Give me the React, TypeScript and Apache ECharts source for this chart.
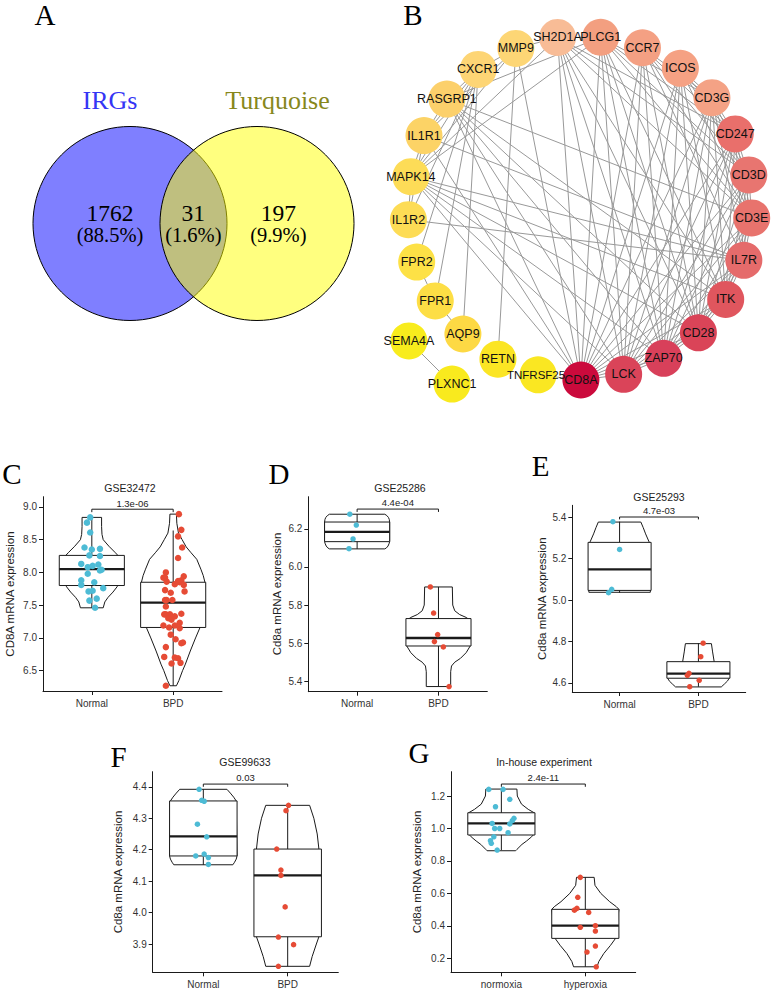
import React, { useEffect, useRef } from "react";
import * as echarts from "echarts";

const FONT = "Liberation Sans, Arial, Helvetica, sans-serif";
const SERIF = "Liberation Serif, Times New Roman, serif";
const LINE = "#1a1a1a";
const BLUE = "#4DBBD5";
const RED = "#E64B35";

// ---------- Panel A: Venn ----------
const vennSets = ["IRGs", "Turquoise"];
const vennCounts = ["1762", "31", "197"];
const vennPercents = ["(88.5%)", "(1.6%)", "(9.9%)"];

// ---------- Panel B: network ----------
const netNodes = ["CD3E", "IL7R", "ITK", "CD28", "ZAP70", "LCK", "CD8A", "TNFRSF25", "RETN", "AQP9", "FPR1", "FPR2", "IL1R2", "MAPK14", "IL1R1", "RASGRP1", "CXCR1", "MMP9", "SH2D1A", "PLCG1", "CCR7", "ICOS", "CD3G", "CD247", "CD3D"];
const netColors = ["#E8736D", "#E56B6B", "#E0565E", "#DA4458", "#D8405A", "#DA4459", "#CB0A3C", "#FAE722", "#FBE524", "#FDD944", "#FDDE45", "#FDE146", "#FDDC55", "#FDDC57", "#FCD366", "#FCD06B", "#FDD575", "#FDD675", "#F8BC96", "#F39F80", "#F4A083", "#F5A183", "#F4A285", "#E96F6B", "#E87570"];
const pairNodes = ["PLXNC1", "SEMA4A"];
const pairColors = ["#F9EA1E", "#F8EC1D"];
const netAdjacency: [string, string[]][] = [
  ["CD8A", ["LCK", "ZAP70", "CD28", "ITK", "IL7R", "CD3E", "CD3D", "CD247", "CD3G", "ICOS", "CCR7", "PLCG1", "SH2D1A", "TNFRSF25", "MMP9", "MAPK14", "IL1R1", "RASGRP1"]],
  ["LCK", ["ZAP70", "CD28", "ITK", "IL7R", "CD3E", "CD3D", "CD247", "CD3G", "ICOS", "CCR7", "PLCG1", "SH2D1A", "RASGRP1", "MAPK14"]],
  ["ZAP70", ["CD28", "ITK", "IL7R", "CD3E", "CD3D", "CD247", "CD3G", "ICOS", "CCR7", "PLCG1", "SH2D1A", "RASGRP1", "MAPK14"]],
  ["CD28", ["ITK", "IL7R", "CD3E", "CD3D", "CD247", "CD3G", "ICOS", "CCR7", "PLCG1", "SH2D1A", "RASGRP1", "MAPK14"]],
  ["ITK", ["IL7R", "CD3E", "CD3D", "CD247", "CD3G", "ICOS", "PLCG1", "SH2D1A", "RASGRP1", "MAPK14"]],
  ["IL7R", ["CD3E", "CD3D", "CD247", "CD3G", "CCR7", "IL1R2", "IL1R1", "MAPK14"]],
  ["CD3E", ["CD3D", "CD247", "CD3G", "ICOS", "CCR7", "PLCG1", "SH2D1A", "RASGRP1"]],
  ["CD3D", ["CD247", "CD3G", "ICOS", "CCR7", "PLCG1", "SH2D1A"]],
  ["CD247", ["CD3G", "ICOS", "CCR7", "PLCG1", "SH2D1A"]],
  ["CD3G", ["ICOS", "CCR7", "PLCG1"]],
  ["PLCG1", ["SH2D1A", "RASGRP1", "MAPK14"]],
  ["MAPK14", ["SH2D1A", "IL1R1", "IL1R2", "CXCR1", "MMP9"]],
  ["IL1R1", ["IL1R2", "RASGRP1", "CXCR1", "MMP9"]],
  ["CXCR1", ["RASGRP1", "MMP9", "FPR1", "FPR2", "AQP9", "IL1R2"]],
  ["MMP9", ["SH2D1A", "RETN"]],
  ["FPR1", ["FPR2", "AQP9"]],
];
const pairLinks: [string, string][] = [["SEMA4A", "PLXNC1"]];

// ---------- Panels C-G: box + violin data ----------
const catsBPD = ["Normal", "BPD"];
const catsOxy = ["normoxia", "hyperoxia"];

// stats: [lower whisker, Q1, median, Q3, upper whisker]
const cNormalStats = [7.46, 7.8, 8.05, 8.26, 8.84];
const cBpdStats = [6.27, 7.16, 7.54, 7.85, 8.64];
const dNormalStats = [6.095, 6.133, 6.184, 6.236, 6.277];
const dBpdStats = [5.372, 5.585, 5.627, 5.729, 5.895];
const eNormalStats = [5.036, 5.047, 5.149, 5.279, 5.379];
const eBpdStats = [4.582, 4.623, 4.645, 4.703, 4.792];
const fNormalStats = [4.152, 4.18, 4.242, 4.355, 4.392];
const fBpdStats = [3.829, 3.923, 4.118, 4.202, 4.341];
const gNormStats = [0.867, 0.96, 1.031, 1.097, 1.241];
const gHypStats = [0.148, 0.323, 0.401, 0.502, 0.699];

// violin outlines: [value, half width]
const cNormalViolin = [[7.46, 0.14], [7.55, 0.16], [7.62, 0.2], [7.7, 0.26], [7.78, 0.31], [7.85, 0.34], [8.0, 0.36], [8.2, 0.34], [8.26, 0.32], [8.3, 0.29], [8.4, 0.21], [8.5, 0.14], [8.58, 0.125], [8.7, 0.12], [8.84, 0.12]];
const cBpdViolin = [[6.27, 0.04], [6.35, 0.07], [6.5, 0.115], [6.6, 0.15], [6.8, 0.21], [7.0, 0.275], [7.16, 0.33], [7.5, 0.38], [7.85, 0.39], [7.95, 0.37], [8.05, 0.34], [8.2, 0.29], [8.3, 0.22], [8.39, 0.16], [8.5, 0.11], [8.6, 0.065], [8.75, 0.045], [8.89, 0.04]];
const dNormalViolin = [[6.095, 0.34], [6.1, 0.36], [6.11, 0.38], [6.125, 0.395], [6.135, 0.4], [6.236, 0.4], [6.25, 0.395], [6.26, 0.385], [6.27, 0.365], [6.277, 0.34]];
const dBpdViolin = [[5.372, 0.15], [5.45, 0.15], [5.48, 0.16], [5.5, 0.2], [5.52, 0.27], [5.55, 0.34], [5.585, 0.39], [5.72, 0.39], [5.735, 0.34], [5.75, 0.26], [5.77, 0.2], [5.8, 0.175], [5.895, 0.17]];
const eNormalViolin = [[5.038, 0.39], [5.27, 0.39], [5.285, 0.37], [5.32, 0.33], [5.35, 0.3], [5.377, 0.27]];
const eBpdViolin = [[4.581, 0.29], [4.595, 0.33], [4.61, 0.37], [4.623, 0.39], [4.66, 0.3], [4.703, 0.2], [4.75, 0.18], [4.79, 0.165]];
const fNormalViolin = [[4.152, 0.35], [4.16, 0.37], [4.17, 0.39], [4.18, 0.4], [4.355, 0.39], [4.367, 0.36], [4.38, 0.32], [4.392, 0.28]];
const fBpdViolin = [[3.829, 0.26], [3.86, 0.29], [3.9, 0.34], [3.923, 0.37], [4.202, 0.37], [4.25, 0.35], [4.3, 0.31], [4.341, 0.26]];
const gNormViolin = [[0.863, 0.17], [0.871, 0.185], [0.902, 0.245], [0.923, 0.3], [0.949, 0.36], [0.96, 0.38], [1.097, 0.39], [1.118, 0.32], [1.15, 0.24], [1.2, 0.19], [1.243, 0.185]];
const gHypViolin = [[0.148, 0.14], [0.18, 0.16], [0.23, 0.22], [0.28, 0.3], [0.323, 0.36], [0.502, 0.4], [0.518, 0.37], [0.549, 0.29], [0.6, 0.185], [0.65, 0.115], [0.699, 0.105]];

// individual samples: values and horizontal jitter
const cNormalY = [8.84, 8.76, 8.61, 8.38, 8.35, 8.36, 8.26, 8.25, 8.13, 8.1, 8.12, 8.08, 8.03, 8.04, 7.98, 7.88, 7.85, 7.81, 7.76, 7.71, 7.72, 7.57, 7.6, 7.46];
const cNormalJ = [-0.02, -0.06, -0.02, -0.09, 0.0, 0.1, -0.03, 0.1, -0.13, 0.01, 0.08, -0.05, 0.1, 0.12, -0.05, -0.13, 0.03, -0.13, 0.14, -0.04, 0.01, -0.03, 0.06, 0.04];
const cBpdY = [8.89, 8.65, 8.55, 8.38, 8.22, 8.0, 7.92, 7.92, 7.94, 7.86, 7.87, 7.88, 7.85, 7.82, 7.81, 7.71, 7.73, 7.69, 7.58, 7.58, 7.58, 7.48, 7.36, 7.36, 7.36, 7.37, 7.3, 7.28, 7.33, 7.23, 7.19, 7.19, 7.16, 7.15, 7.05, 6.98, 6.92, 6.93, 6.86, 6.71, 6.7, 6.69, 6.61, 6.62, 6.27];
const cBpdJ = [0.07, 0.1, 0.06, 0.11, 0.06, -0.09, -0.12, -0.1, 0.13, -0.08, 0.06, 0.1, 0.08, 0.02, 0.13, 0.14, -0.1, -0.03, -0.1, -0.08, -0.01, -0.09, -0.11, -0.09, -0.04, 0.1, -0.06, -0.02, 0.02, 0.08, -0.12, 0.02, -0.05, 0.08, -0.03, 0.03, 0.1, 0.12, -0.09, -0.11, 0.02, 0.06, -0.02, 0.09, -0.09];
const dNormalY = [6.277, 6.22, 6.147, 6.096];
const dNormalJ = [-0.09, -0.01, -0.05, -0.1];
const dBpdY = [5.895, 5.758, 5.645, 5.608, 5.58, 5.372];
const dBpdJ = [-0.1, -0.06, -0.01, -0.05, 0.06, 0.13];
const eNormalY = [5.379, 5.245, 5.052, 5.036];
const eNormalJ = [-0.085, 0.0, -0.1, -0.14];
const eBpdY = [4.792, 4.727, 4.647, 4.637, 4.613, 4.582];
const eBpdJ = [0.06, 0.03, -0.12, -0.14, 0.01, -0.11];
const fNormalY = [4.392, 4.357, 4.354, 4.281, 4.241, 4.18, 4.186, 4.175, 4.153];
const fNormalJ = [-0.05, -0.02, 0.01, -0.07, 0.04, -0.09, 0.01, 0.06, 0.06];
const fBpdY = [4.341, 4.324, 4.202, 4.135, 4.118, 4.018, 3.922, 3.898, 3.829];
const fBpdJ = [0.01, -0.02, -0.13, -0.08, -0.08, -0.03, -0.11, 0.07, -0.11];
const gNormY = [1.241, 1.241, 1.18, 1.134, 1.063, 1.048, 1.028, 1.031, 1.0, 1.0, 0.974, 0.949, 0.925, 0.909, 0.867];
const gNormJ = [-0.15, 0.02, 0.1, -0.07, 0.15, 0.13, 0.1, -0.11, -0.08, -0.02, 0.08, -0.09, -0.13, -0.12, -0.05];
const gHypY = [0.699, 0.576, 0.497, 0.508, 0.483, 0.391, 0.401, 0.368, 0.276, 0.239, 0.148];
const gHypJ = [-0.06, -0.09, -0.13, -0.1, 0.04, -0.06, 0.12, 0.12, 0.12, 0.02, 0.13];

// y-axis tick labels
const cTicks = [6.5, 7.0, 7.5, 8.0, 8.5, 9.0];
const dTicks = [5.4, 5.6, 5.8, 6.0, 6.2];
const eTicks = [4.6, 4.8, 5.0, 5.2, 5.4];
const fTicks = [3.9, 4.0, 4.1, 4.2, 4.3, 4.4];
const gTicks = [0.2, 0.4, 0.6, 0.8, 1.0, 1.2];

// significance: [bracket level, tip level] and p labels
const pLabels = ["1.3e-06", "4.4e-04", "4.7e-03", "0.03", "2.4e-11"];
const brackets = [[8.965, 8.92], [6.304, 6.289], [5.4015, 5.39], [4.4086, 4.4], [1.274, 1.257]];
const plotTitles = ["GSE32472", "GSE25286", "GSE25293", "GSE99633", "In-house experiment"];
const yTitles = ["CD8A mRNA expression", "Cd8a mRNA expression", "Cd8a mRNA expression", "Cd8a mRNA expression", "Cd8a mRNA expression"];

const panels = [
  { box: [43, 496.7, 179, 194.3], y: [6.19, 9.156], ticks: cTicks, cats: catsBPD, stats: [cNormalStats, cBpdStats], violins: [cNormalViolin, cBpdViolin], pts: [[cNormalJ, cNormalY], [cBpdJ, cBpdY]], dot: 6.5, titlePos: [130, 488], yTitlePos: [10, 594], letter: ["C", 12, 474] },
  { box: [308.3, 496.7, 179, 195], y: [5.345, 6.369], ticks: dTicks, cats: catsBPD, stats: [dNormalStats, dBpdStats], violins: [dNormalViolin, dBpdViolin], pts: [[dNormalJ, dNormalY], [dBpdJ, dBpdY]], dot: 5.5, titlePos: [400, 488], yTitlePos: [276.7, 594], letter: ["D", 279, 473.5] },
  { box: [572.3, 505.3, 173.4, 186.7], y: [4.5565, 5.458], ticks: eTicks, cats: catsBPD, stats: [eNormalStats, eBpdStats], violins: [eNormalViolin, eBpdViolin], pts: [[eNormalJ, eNormalY], [eBpdJ, eBpdY]], dot: 5.5, titlePos: [659, 496.7], yTitlePos: [541.7, 598.7], letter: ["E", 540.5, 466] },
  { box: [152.7, 771.7, 185.6, 200.6], y: [3.81, 4.448], ticks: fTicks, cats: catsBPD, stats: [fNormalStats, fBpdStats], violins: [fNormalViolin, fBpdViolin], pts: [[fNormalJ, fNormalY], [fBpdJ, fBpdY]], dot: 5.5, titlePos: [245, 762.3], yTitlePos: [118.3, 872], letter: ["F", 118.5, 756.5] },
  { box: [451, 771.7, 184.7, 200.6], y: [0.114, 1.35], ticks: gTicks, cats: catsOxy, stats: [gNormStats, gHypStats], violins: [gNormViolin, gHypViolin], pts: [[gNormJ, gNormY], [gHypJ, gHypY]], dot: 5.5, titlePos: [544, 762.3], yTitlePos: [417.3, 872], letter: ["G", 419, 752.5] },
];

const BOXW = 0.4;

function txt(text: string, x: number, y: number, size: number, opt: any = {}) {
  return {
    type: "text",
    x,
    y,
    rotation: opt.rot || 0,
    silent: true,
    z: 20,
    style: {
      text,
      fontSize: size,
      fontFamily: opt.family || FONT,
      fill: opt.color || "#1a1a1a",
      align: "center",
      verticalAlign: "middle",
      fontWeight: "normal",
    },
  };
}

function buildOption(): any {
  const grids: any[] = [];
  const xAxes: any[] = [];
  const yAxes: any[] = [];
  const series: any[] = [];
  const graphics: any[] = [];

  panels.forEach((p, i) => {
    grids.push({ left: p.box[0], top: p.box[1], width: p.box[2], height: p.box[3], containLabel: false, outerBoundsMode: "none" });
    xAxes.push({
      type: "value",
      gridIndex: i,
      min: -0.6,
      max: 1.6,
      axisLine: { show: true, onZero: false, lineStyle: { color: LINE, width: 1 } },
      axisTick: { show: true, length: 4, lineStyle: { color: LINE, width: 1 }, customValues: [0, 1] },
      axisLabel: { show: true, customValues: [0, 1], formatter: (v: number) => p.cats[Math.round(v)], color: "#333", fontSize: 10, fontFamily: FONT, margin: 7 },
      splitLine: { show: false },
    });
    yAxes.push({
      type: "value",
      gridIndex: i,
      min: p.y[0],
      max: p.y[1],
      axisLine: { show: true, onZero: false, lineStyle: { color: LINE, width: 1 } },
      axisTick: { show: true, length: 4, lineStyle: { color: LINE, width: 1 }, customValues: p.ticks },
      axisLabel: { show: true, customValues: p.ticks, formatter: (v: number) => v.toFixed(1), color: "#333", fontSize: 10, fontFamily: FONT, margin: 6 },
      splitLine: { show: false },
    });

    series.push({
      type: "custom",
      xAxisIndex: i,
      yAxisIndex: i,
      z: 2,
      silent: true,
      data: p.stats.map((s, k) => [k, ...s]),
      encode: { x: 0, y: [1, 2, 3, 4, 5] },
      renderItem: (params: any, api: any) => {
        const idx = params.dataIndex;
        const c = api.value(0);
        const s = [api.value(1), api.value(2), api.value(3), api.value(4), api.value(5)];
        const prof = p.violins[idx];
        const right = prof.map(([yv, w]) => api.coord([c + w, yv]));
        const left = prof.slice().reverse().map(([yv, w]) => api.coord([c - w, yv]));
        const top = api.coord([c, s[4]]);
        const bot = api.coord([c, s[0]]);
        const b1 = api.coord([c - BOXW, s[3]]);
        const b2 = api.coord([c + BOXW, s[1]]);
        const m1 = api.coord([c - BOXW, s[2]]);
        const m2 = api.coord([c + BOXW, s[2]]);
        return {
          type: "group",
          children: [
            { type: "polygon", shape: { points: right.concat(left) }, style: { fill: "#fff", stroke: LINE, lineWidth: 1 } },
            { type: "line", shape: { x1: top[0], y1: top[1], x2: bot[0], y2: bot[1] }, style: { stroke: LINE, lineWidth: 1 } },
            { type: "rect", shape: { x: b1[0], y: b1[1], width: b2[0] - b1[0], height: b2[1] - b1[1] }, style: { fill: "#fff", stroke: LINE, lineWidth: 1 } },
            { type: "line", shape: { x1: m1[0], y1: m1[1], x2: m2[0], y2: m2[1] }, style: { stroke: LINE, lineWidth: 2.3 } },
          ],
        };
      },
    });

    series.push({
      type: "custom",
      xAxisIndex: i,
      yAxisIndex: i,
      z: 4,
      silent: true,
      data: [[0, 1, brackets[i][0], brackets[i][1]]],
      encode: { x: [0, 1], y: [2, 3] },
      renderItem: (params: any, api: any) => {
        const a = api.coord([api.value(0), api.value(3)]);
        const b = api.coord([api.value(0), api.value(2)]);
        const c = api.coord([api.value(1), api.value(2)]);
        const d = api.coord([api.value(1), api.value(3)]);
        return {
          type: "group",
          children: [
            { type: "polyline", shape: { points: [a, b, c, d] }, style: { stroke: LINE, lineWidth: 1, fill: "none" } },
            { type: "text", x: (b[0] + c[0]) / 2, y: b[1] - 1.2, style: { text: pLabels[i], align: "center", verticalAlign: "bottom", fontSize: 9.5, fontFamily: FONT, fill: "#222" } },
          ],
        };
      },
    });

    p.pts.forEach(([jit, vals], k) => {
      series.push({
        type: "scatter",
        xAxisIndex: i,
        yAxisIndex: i,
        z: 5,
        silent: true,
        symbol: "circle",
        symbolSize: p.dot,
        itemStyle: { color: k === 0 ? BLUE : RED, opacity: 1 },
        data: vals.map((v, n) => [k + jit[n], v]),
      });
    });

    graphics.push(txt(plotTitles[i], p.titlePos[0], p.titlePos[1], 10.5, { color: "#222" }));
    graphics.push(txt(yTitles[i], p.yTitlePos[0], p.yTitlePos[1], 11.5, { rot: Math.PI / 2, color: "#222" }));
    graphics.push(txt(p.letter[0] as string, p.letter[1] as number, p.letter[2] as number, 29, { family: SERIF, color: "#000" }));
  });

  // Network: ring of nodes placed by a hidden polar coordinate system (one category per gene)
  const links: any[] = [];
  netAdjacency.forEach(([src, targets]) => targets.forEach((t) => links.push({ source: src, target: t })));
  series.push({
    type: "graph",
    coordinateSystem: "polar",
    polarIndex: 0,
    roam: false,
    silent: true,
    symbol: "circle",
    symbolSize: 37,
    label: { show: true, position: "inside", color: "#111", fontSize: 12.5, fontFamily: FONT },
    lineStyle: { color: "#999", width: 1, opacity: 1, curveness: 0 },
    emphasis: { disabled: true },
    data: netNodes.map((n, i) => ({
      name: n,
      value: [1, n],
      itemStyle: { color: netColors[i] },
      ...(n === "TNFRSF25" ? { label: { fontSize: 11.5, offset: [-2, 0] } } : {}),
    })),
    links,
    z: 1,
  });
  series.push({
    type: "graph",
    layout: "circular",
    left: 400,
    top: 332,
    width: 61,
    height: 61,
    roam: false,
    silent: true,
    symbol: "circle",
    symbolSize: 37,
    circular: { rotateLabel: false },
    label: { show: true, position: "inside", color: "#111", fontSize: 12.5, fontFamily: FONT },
    lineStyle: { color: "#999", width: 1, opacity: 1, curveness: 0 },
    emphasis: { disabled: true },
    data: [
      { name: pairNodes[0], itemStyle: { color: pairColors[0] } },
      { name: "_gap1", itemStyle: { opacity: 0 }, label: { show: false } },
      { name: pairNodes[1], itemStyle: { color: pairColors[1] } },
      { name: "_gap2", itemStyle: { opacity: 0 }, label: { show: false } },
    ],
    links: pairLinks.map(([s, t]) => ({ source: s, target: t })),
    z: 1,
  });

  // Venn
  graphics.push({ type: "circle", silent: true, z: 1, shape: { cx: 130, cy: 223.5, r: 97 }, style: { fill: "rgba(0,0,255,0.5)", stroke: "#000", lineWidth: 1 } });
  graphics.push({ type: "circle", silent: true, z: 2, shape: { cx: 257, cy: 223.5, r: 97 }, style: { fill: "rgba(255,255,0,0.5)", stroke: "#000", lineWidth: 1 } });
  graphics.push(txt(vennSets[0], 110, 100, 26, { family: SERIF, color: "#3535f5" }));
  graphics.push(txt(vennSets[1], 277.5, 100, 26, { family: SERIF, color: "#87871c" }));
  const vx = [110, 193.3, 278.3];
  vennCounts.forEach((c, i) => {
    graphics.push(txt(c, vx[i], 212.5, 23.5, { family: SERIF, color: "#000" }));
    graphics.push(txt(vennPercents[i], vx[i], 235, 20.5, { family: SERIF, color: "#000" }));
  });
  graphics.push(txt("A", 45, 15, 29, { family: SERIF, color: "#000" }));
  graphics.push(txt("B", 412.8, 15, 29, { family: SERIF, color: "#000" }));

  return {
    animation: false,
    backgroundColor: "#fff",
    textStyle: { fontFamily: FONT },
    polar: { center: [580, 208], radius: 172 },
    angleAxis: { type: "category", data: netNodes, startAngle: 3.9, clockwise: true, show: false, axisLine: { show: false }, axisTick: { show: false }, axisLabel: { show: false }, splitLine: { show: false } },
    radiusAxis: { type: "value", min: 0, max: 1, show: false, axisLine: { show: false }, axisTick: { show: false }, axisLabel: { show: false }, splitLine: { show: false } },
    grid: grids,
    xAxis: xAxes,
    yAxis: yAxes,
    series,
    graphic: { elements: graphics },
  };
}

export default function App() {
  const ref = useRef<HTMLDivElement>(null);
  useEffect(() => {
    if (!ref.current) return;
    const chart = echarts.init(ref.current, undefined, { renderer: "svg" });
    chart.setOption(buildOption());
    return () => chart.dispose();
  }, []);
  return <div ref={ref} style={{ position: "absolute", left: 0, top: 0, width: 774, height: 993 }} />;
}
